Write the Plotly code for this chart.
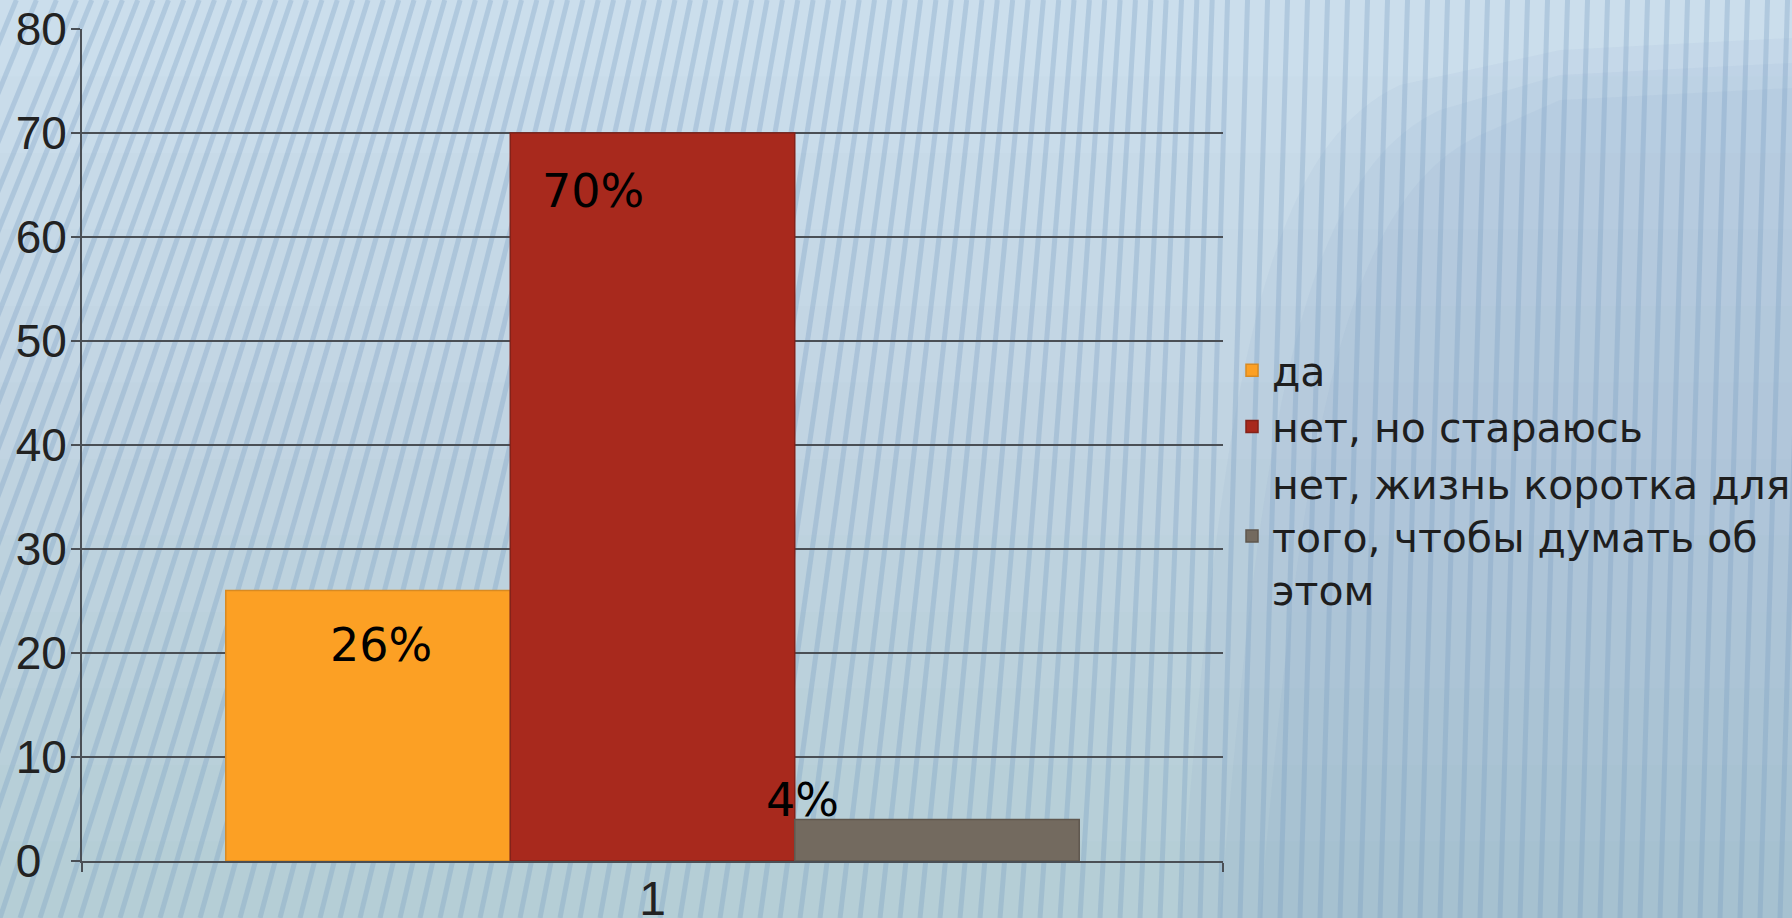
import plotly.graph_objects as go

# ---- data ----
categories = ["1"]
series_names = [
    "да",
    "нет, но стараюсь",
    "нет, жизнь коротка для<br>того, чтобы думать об<br>этом",
]
series_values = [26, 70, 4]
value_labels = ["26%", "70%", "4%"]
y_tick_vals = [0, 10, 20, 30, 40, 50, 60, 70, 80]
y_tick_text = ["0\u2007", "10", "20", "30", "40", "50", "60", "70", "80"]

# ---- styles ----
series_colors = ["#FCA024", "#A8291D", "#736A5F"]
edge_colors = ["#D88A22", "#842219", "#5F574E"]
label_offsets = [(-272, -54), (-60, -58), (150, 19)]  # px from bar top at category centre

W, H = 1792, 918
L, R, T, B = 82, 569, 29, 57
PW, PH = W - L - R, H - T - B

def px_x(x):
    return (x - L) / PW

def px_y(y):
    return (H - B - y) / PH

fig = go.Figure()
for name, val, col, edge in zip(series_names, series_values, series_colors, edge_colors):
    fig.add_trace(go.Bar(
        x=categories, y=[val], name=name,
        marker=dict(color=col, line=dict(color=edge, width=1.5)),
    ))

for val, txt, (dx, dy) in zip(series_values, value_labels, label_offsets):
    fig.add_annotation(
        x=0, y=val, text=txt, showarrow=False,
        xshift=dx, yshift=dy, xanchor="center", yanchor="middle",
        font=dict(family="DejaVu Sans", size=46, color="#000000"),
    )

# ---- decorative background: soft gradient, shaded corner, slanted stripes ----
shapes = []
for i in range(12):
    shapes.append(dict(
        type="rect", xref="paper", yref="paper", layer="below",
        x0=px_x(0), x1=px_x(W), y0=px_y(H), y1=px_y(H * i / 12),
        fillcolor="rgba(110,150,190,0.025)", line=dict(width=0),
    ))
for k, (sx, sy) in enumerate([(0, 0), (40, 25), (80, 50)]):
    shapes.append(dict(
        type="path", xref="paper", yref="paper", layer="below",
        path=(f"M {px_x(1180 + sx)},{px_y(918)} "
              f"C {px_x(1220 + sx)},{px_y(400 + sy)} {px_x(1260 + sx)},{px_y(150 + sy)} "
              f"{px_x(1400 + sx)},{px_y(85 + sy)} "
              f"L {px_x(1560)},{px_y(50 + sy)} L {px_x(1792)},{px_y(38 + sy)} "
              f"L {px_x(1792)},{px_y(918)} Z"),
        fillcolor="rgba(100,140,180,0.06)", line=dict(width=0),
    ))
xb = -420
while xb <= W + 20:
    t = min(max((xb + 300) / 1500, 0), 1)
    lean = 0.38 * (1 - t) + 0.03
    shapes.append(dict(
        type="line", xref="paper", yref="paper", layer="below",
        x0=px_x(xb), y0=px_y(H), x1=px_x(xb + lean * H), y1=px_y(0),
        line=dict(color="rgba(120,158,195,0.33)", width=5),
    ))
    xb += 20

axis_col = "#4A4F55"
fig.update_layout(
    width=W, height=H,
    margin=dict(l=L, r=R, t=T, b=B, pad=0, autoexpand=False),
    paper_bgcolor="#CDE0EE",
    plot_bgcolor="rgba(0,0,0,0)",
    barmode="group", bargap=0.252, bargroupgap=0,
    shapes=shapes,
    showlegend=True,
    legend=dict(
        x=px_x(1232), y=px_y(337), xanchor="left", yanchor="top",
        bgcolor="rgba(0,0,0,0)", borderwidth=0,
        font=dict(family="DejaVu Sans", size=41, color="#1E1E1E"),
        traceorder="normal", valign="middle",
    ),
    xaxis=dict(
        type="category", range=[-0.5, 0.5], automargin=False,
        showline=True, linecolor=axis_col, linewidth=2,
        ticks="outside", ticklen=9, tickwidth=2, tickcolor=axis_col,
        tickson="boundaries", showgrid=False, ticklabelstandoff=-6,
        tickfont=dict(family="Liberation Sans", size=48, color="#222222"),
    ),
    yaxis=dict(
        range=[0, 80], tickvals=y_tick_vals, ticktext=y_tick_text, automargin=False,
        showline=True, linecolor=axis_col, linewidth=2,
        ticks="outside", ticklen=9, tickwidth=2, tickcolor=axis_col,
        showgrid=True, gridcolor=axis_col, gridwidth=2,
        zeroline=False, ticklabelstandoff=-5,
        tickfont=dict(family="Liberation Sans", size=46, color="#222222"),
    ),
)

fig.write_html("out.html")
